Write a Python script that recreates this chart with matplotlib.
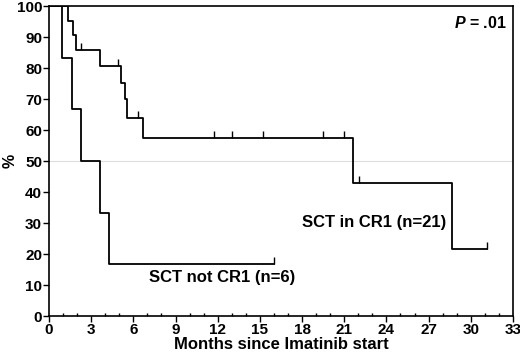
import numpy as np
import matplotlib.pyplot as plt
from matplotlib.ticker import MultipleLocator

plt.rcParams["font.family"] = ["Liberation Sans", "DejaVu Sans"]
plt.rcParams["font.weight"] = "bold"
plt.rcParams["mathtext.fontset"] = "custom"
plt.rcParams["mathtext.it"] = "Liberation Sans:italic:bold"

# SCT in CR1 (n=21): event times (months) and survival (%) after each step
cr1_time = [0, 1.37, 1.68, 1.92, 3.63, 5.1, 5.4, 5.57, 6.66, 21.64, 28.64, 31.17]
cr1_surv = [100, 95.2, 90.5, 85.7, 80.7, 75.3, 69.9, 64.0, 57.3, 43.0, 21.5, 21.5]
cr1_cens = [2.28, 4.93, 6.3, 11.73, 13.04, 15.24, 19.5, 21.0, 22.05, 31.17]

# SCT not CR1 (n=6)
ncr1_time = [0, 0.9, 1.61, 2.28, 3.63, 4.29, 16.0]
ncr1_surv = [100, 83.3, 66.7, 50.0, 33.3, 16.7, 16.7]
ncr1_cens = [16.0]

xticks = np.arange(0, 34, 3)
yticks = np.arange(0, 101, 10)


def surv_at(times, surv, t):
    idx = np.searchsorted(times, t, side="right") - 1
    return np.asarray(surv)[idx]


fg = plt.figure(figsize=(5.2, 3.6), dpi=100)
ax = fg.add_axes([0.0942, 0.1222, 0.8923, 0.8611])

ax.axhline(50, color="#dddddd", lw=0.8, zorder=0)

for t, s, c in [(cr1_time, cr1_surv, cr1_cens), (ncr1_time, ncr1_surv, ncr1_cens)]:
    ax.step(t, s, where="post", color="black", lw=1.3)
    ax.plot(c, surv_at(t, s, c), linestyle="", marker=2, ms=5, mew=1.0,
            color="black")

ax.set_xlim(0, 33)
ax.set_ylim(0, 100)
ax.set_xticks(xticks)
ax.set_yticks(yticks)
ax.xaxis.set_minor_locator(MultipleLocator(1))
ax.tick_params(axis="both", which="major", labelsize=11, length=4, width=1.0,
               pad=1)
ax.tick_params(axis="x", which="minor", direction="in", length=2, width=1.0)
for lbl in ax.get_xticklabels() + ax.get_yticklabels():
    lbl.set_fontweight("bold")
for sp in ax.spines.values():
    sp.set_linewidth(1.2)

ax.set_xlabel("Months since Imatinib start", fontsize=12, fontweight="bold",
              labelpad=0)
ax.set_ylabel("%", fontsize=11.5, fontweight="bold")
ax.yaxis.set_label_coords(-0.068, 0.5)

ax.text(32.56, 94.5, "$\\mathit{P}$ = .01", fontsize=11.5, fontweight="bold",
        ha="right", va="center")
ax.text(23.1, 30.3, "SCT in CR1 (n=21)", fontsize=12, fontweight="bold",
        ha="center", va="center")
ax.text(12.34, 12.3, "SCT not CR1 (n=6)", fontsize=12, fontweight="bold",
        ha="center", va="center")

fg.savefig("out.png", dpi=100)
plt.close(fg)
